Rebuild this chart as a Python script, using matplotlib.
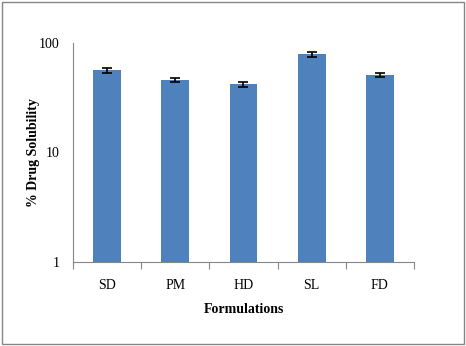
import numpy as np
import matplotlib.pyplot as plt
from matplotlib.patches import Rectangle

formulations = ['SD', 'PM', 'HD', 'SL', 'FD']
solubility = [56.5, 45.8, 42.0, 79.0, 51.0]
errors = [3.0, 2.0, 2.4, 4.0, 2.2]

plt.rcParams['font.family'] = ['Liberation Serif', 'DejaVu Serif']

fig = plt.figure(figsize=(4.66, 3.46), dpi=100)
ax = fig.add_axes([0.157, 0.243, 0.731, 0.633])

x = np.arange(len(formulations))
ax.bar(x, solubility, width=0.41, color='#4f81bd', zorder=2)
ax.errorbar(x, solubility, yerr=errors, fmt='none', ecolor='black',
            elinewidth=1.2, capsize=3.5, capthick=1.2, zorder=3)

ax.set_yscale('log')
ax.set_ylim(1, 100)
ax.set_xlim(-0.5, len(formulations) - 0.5)
ax.set_yticks([1, 10, 100])
ax.set_yticklabels(['1', '10', '100'])
ax.yaxis.set_minor_locator(plt.NullLocator())
ax.tick_params(axis='y', length=0, pad=10, labelsize=10)

ax.set_xticks(np.arange(len(formulations) + 1) - 0.5)
ax.set_xticklabels([])
ax.set_xticks(x, minor=True)
ax.set_xticklabels(formulations, minor=True)
ax.tick_params(axis='x', which='major', length=5, color='#868686')
ax.tick_params(axis='x', which='minor', length=0, pad=12, labelsize=10)

for s in ['top', 'right']:
    ax.spines[s].set_visible(False)
for s in ['left', 'bottom']:
    ax.spines[s].set_color('#868686')

ax.set_ylabel('% Drug Solubility', fontsize=10, fontweight='bold')
ax.yaxis.set_label_coords(-0.098, 0.5)
ax.set_xlabel('Formulations', fontsize=10, fontweight='bold', labelpad=8)

fig.patches.append(Rectangle((0.005, 0.006), 0.99, 0.988, transform=fig.transFigure,
                             fill=False, edgecolor='#868686', linewidth=1))

fig.savefig('out.png', dpi=100)
